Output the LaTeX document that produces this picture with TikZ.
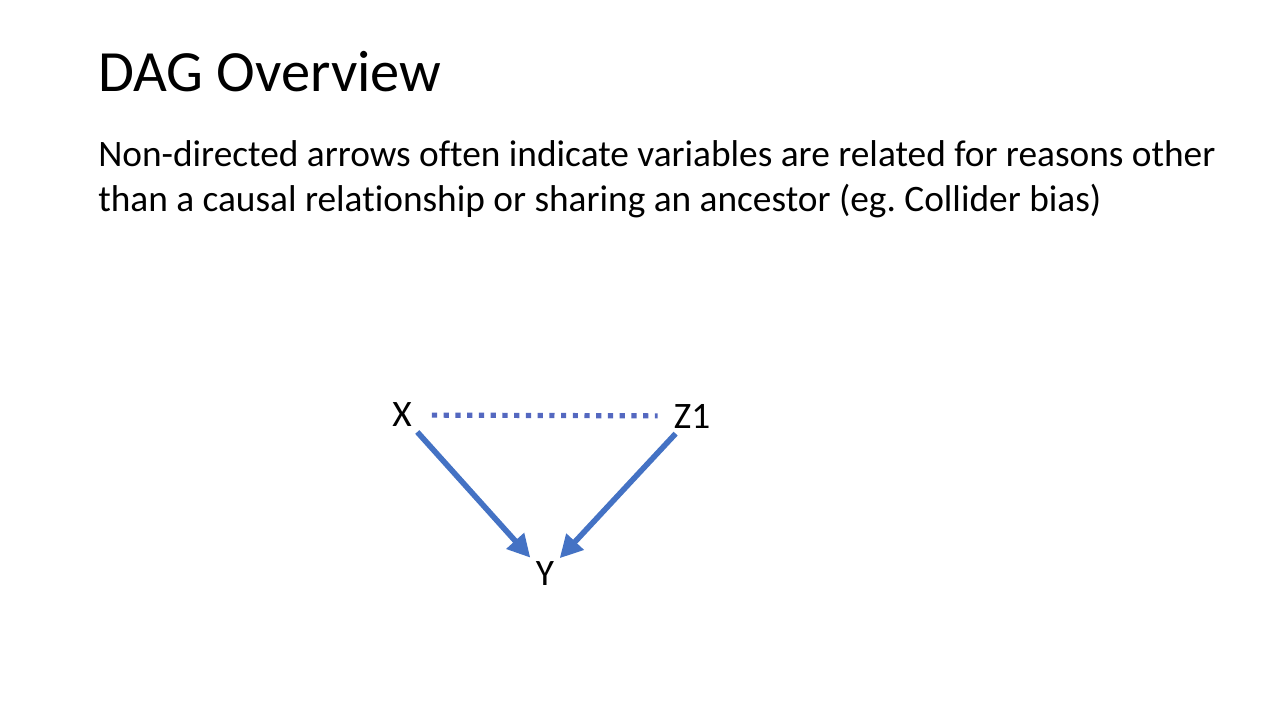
\documentclass[tikz,border=0pt]{standalone}
\usepackage{fontspec}
\setmainfont{Carlito}[Ligatures=NoCommon]
\usetikzlibrary{arrows.meta}
\frenchspacing

\definecolor{dagblue}{HTML}{4472C4}
\definecolor{dotblue}{HTML}{5468C0}

\begin{document}
\begin{tikzpicture}[x=0.75pt,y=-0.75pt,
    % styles
    title text/.style={anchor=base west,inner sep=0pt,font=\fontsize{43.8}{54}\selectfont},
    body text/.style={anchor=base west,inner sep=0pt,align=left,font=\fontsize{28}{33.75}\selectfont},
    dag var/.style={inner sep=4pt,font=\fontsize{28}{32}\selectfont},
    causal/.style={draw=dagblue,line width=4.2pt,-{Triangle[length=17pt,width=17pt]}},
    related/.style={draw=dotblue,line width=3.9pt,dash pattern=on 3.9pt off 4.9pt,
      shorten <=11pt,shorten >=8pt}]

  % frame
  \useasboundingbox[fill=white] (0,0) rectangle (1280,720);

  % text
  \node [title text] (title) at (98,92) {DAG Overview};
  \node [body text] (body) at (98,212) {Non-directed arrows often indicate variables are related for reasons other\\
    than a causal relationship or sharing an ancestor (eg. Collider bias)};

  % variables
  \node [dag var] (X) at (402,415) {X};
  \node [dag var] (Z1) at (692,416) {Z1};
  \node [dag var] (Y) at (545,574) {Y};

  % arrows
  \draw [related] (X) -- (Z1);
  \draw [causal] (X) -- (Y);
  \draw [causal] (Z1) -- (Y);
\end{tikzpicture}
\end{document}
